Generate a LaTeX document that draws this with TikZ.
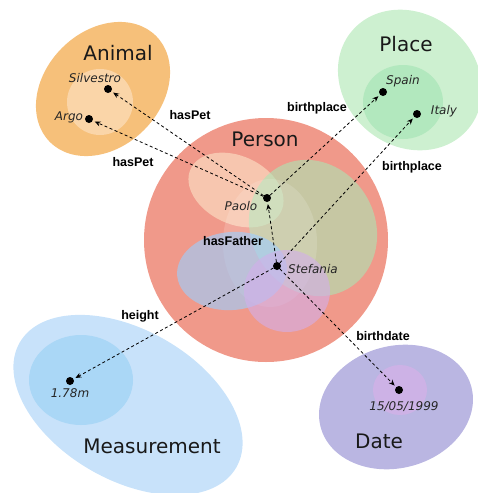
\documentclass[tikz,border=0pt]{standalone}
\usepackage{fontspec}
\setmainfont{DejaVu Sans}
\newfontfamily\relfont{Liberation Sans}
\usetikzlibrary{arrows.meta,positioning}

\definecolor{animalout}{RGB}{246,192,122}
\definecolor{animalin}{RGB}{250,213,168}
\definecolor{placeout}{RGB}{205,240,208}
\definecolor{placein}{RGB}{178,232,190}
\definecolor{measout}{RGB}{200,226,250}
\definecolor{measin}{RGB}{170,215,246}
\definecolor{dateout}{RGB}{186,182,226}
\definecolor{datein}{RGB}{205,178,230}
\definecolor{personcol}{RGB}{240,153,138}
\definecolor{peachsub}{RGB}{247,198,175}
\definecolor{greensub}{RGB}{170,230,180}
\definecolor{bluesub}{RGB}{160,205,250}
\definecolor{purplesub}{RGB}{210,175,235}

\tikzset{
  dot/.style={circle,fill=black,inner sep=0pt,minimum size=8pt},
  classlbl/.style={font=\fontsize{20}{24}\selectfont,text=black!90},
  instlbl/.style={font=\itshape\fontsize{12}{14}\selectfont,text=black!85,inner sep=1pt},
  rellbl/.style={font=\relfont\bfseries\fontsize{12.5}{15}\selectfont,text=black},
  link/.style={line width=0.8pt,dash pattern=on 3pt off 2.5pt,
    -{Stealth[length=6pt,width=5pt]},shorten >=2pt}
}

\begin{document}
\begin{tikzpicture}[x=1pt,y=-1pt]
  \useasboundingbox (0,0) rectangle (477,493);
  % classes
  \fill[animalout,rotate around={45:(103,89)}] (103,89) ellipse [x radius=75,y radius=58];
  \fill[animalin] (100,102) circle [radius=33];
  \fill[placeout,rotate around={-40:(410,80)}] (410,80) ellipse [x radius=76,y radius=66];
  \fill[placein] (403,102) ellipse [x radius=40,y radius=37];
  \fill[measout,rotate around={-30:(128,405)}] (128,405) ellipse [x radius=125,y radius=75];
  \fill[measin] (81,380) ellipse [x radius=52,y radius=45];
  \fill[dateout,rotate around={15:(396,407)}] (396,407) ellipse [x radius=78,y radius=61];
  \fill[datein] (400,390) ellipse [x radius=27,y radius=25];
  \fill[personcol] (266,240) circle [radius=122];
  % subclasses of person
  \fill[peachsub,rotate around={-25:(236,190)}] (236,190) ellipse [x radius=50,y radius=34];
  \fill[greensub,opacity=.6,rotate around={-60:(313,228)}] (313,228) ellipse [x radius=70,y radius=62];
  \fill[white,opacity=.15] (270,243) ellipse [x radius=47,y radius=64];
  \fill[bluesub,opacity=.65,rotate around={5:(232,271)}] (232,271) ellipse [x radius=55,y radius=39];
  \fill[purplesub,opacity=.6] (287,291) ellipse [x radius=43,y radius=41];

  % instances
  \node[dot] (silvestro) at (108,89) {};
  \node[dot] (argo) at (89,119) {};
  \node[dot] (spain) at (383,92) {};
  \node[dot] (italy) at (417,114) {};
  \node[dot] (paolo) at (267,198) {};
  \node[dot] (stefania) at (277,266) {};
  \node[dot] (tall) at (70,381) {};
  \node[dot] (bday) at (399,390) {};

  \draw[link] (paolo) -- (silvestro);
  \draw[link] (paolo) -- (argo);
  \draw[link] (paolo) -- (spain);
  \draw[link] (stefania) -- (italy);
  \draw[link] (stefania) -- (paolo);
  \draw[link] (stefania) -- (tall);
  \draw[link] (stefania) -- (bday);

  \node[classlbl] (animal) at (118,53) {Animal};
  \node[classlbl] (place) at (406,44) {Place};
  \node[classlbl] (person) at (265,139) {Person};
  \node[classlbl] (measurement) at (152,446) {Measurement};
  \node[classlbl] (date) at (379,441) {Date};

  \node[instlbl] (silvestrolbl) at (95,78) {Silvestro};
  \node[instlbl] (argolbl) at (69,117) {Argo};
  \node[instlbl] (spainlbl) at (403,81) {Spain};
  \node[instlbl] (italylbl) at (444,111) {Italy};
  \node[instlbl] (paololbl) at (241,206) {Paolo};
  \node[instlbl] (stefanialbl) at (313,269) {Stefania};
  \node[instlbl] (talllbl) at (70,393) {1.78m};
  \node[instlbl] (bdaylbl) at (404,407) {15/05/1999};

  \node[rellbl] (haspetA) at (190,115) {hasPet};
  \node[rellbl] (haspetB) at (133,162) {hasPet};
  \node[rellbl] (birthplA) at (317,108) {birthplace};
  \node[rellbl] (birthplB) at (412,167) {birthplace};
  \node[rellbl] (hasfather) at (233,241) {hasFather};
  \node[rellbl] (heightlbl) at (140,316) {height};
  \node[rellbl] (birthdatelbl) at (383,336) {birthdate};
\end{tikzpicture}
\end{document}
